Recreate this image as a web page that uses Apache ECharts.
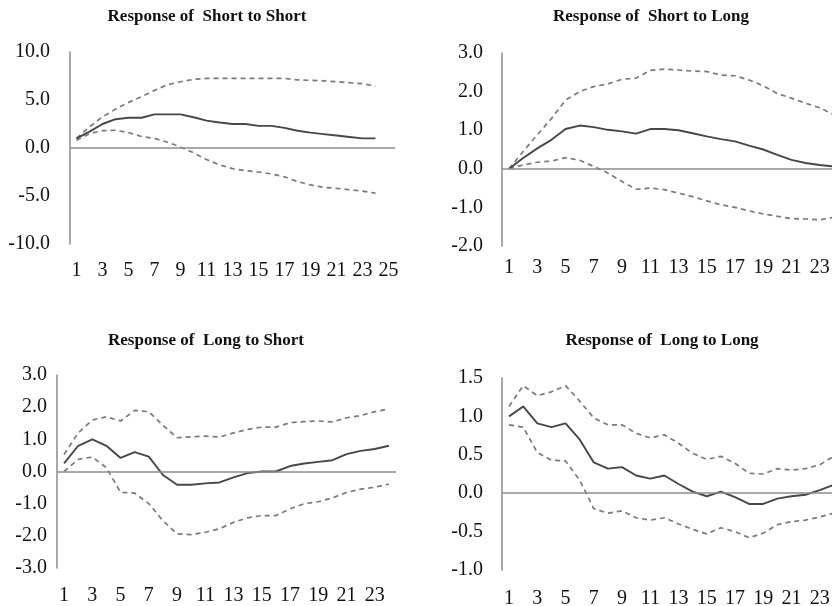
<!DOCTYPE html>
<html>
<head>
<meta charset="utf-8">
<script src="https://cdn.jsdelivr.net/npm/echarts@6/dist/echarts.min.js"></script>
<style>
  html, body { margin: 0; padding: 0; background: #fff; }
  #chart { width: 832px; height: 606px; }
</style>
</head>
<body>
<div id="chart"></div>
<script>
// Impulse responses (point estimate with lower / upper bands), periods 1..24
const axisCats25 = Array.from({ length: 25 }, (_, i) => String(i + 1));
const axisCats24 = Array.from({ length: 24 }, (_, i) => String(i + 1));

const titles = [
  'Response of  Short to Short',
  'Response of  Short to Long',
  'Response of  Long to Short',
  'Response of  Long to Long'
];

// Short to Short
const irfSS   = [1.0, 1.7, 2.5, 3.0, 3.15, 3.15, 3.5, 3.5, 3.5, 3.2, 2.85, 2.65, 2.5, 2.5, 2.3, 2.3, 2.1, 1.8, 1.6, 1.45, 1.3, 1.15, 1.0, 1.0];
const upperSS = [1.0, 2.2, 3.25, 4.05, 4.75, 5.35, 6.0, 6.6, 6.9, 7.15, 7.25, 7.25, 7.25, 7.25, 7.25, 7.25, 7.25, 7.1, 7.05, 7.0, 6.9, 6.8, 6.7, 6.45];
const lowerSS = [0.8, 1.5, 1.8, 1.85, 1.6, 1.2, 1.0, 0.6, 0.1, -0.5, -1.2, -1.75, -2.15, -2.35, -2.5, -2.7, -3.0, -3.5, -3.85, -4.1, -4.2, -4.35, -4.5, -4.7];

// Short to Long
const irfSL   = [0.0, 0.28, 0.53, 0.75, 1.03, 1.12, 1.08, 1.01, 0.97, 0.91, 1.03, 1.03, 1.0, 0.92, 0.84, 0.77, 0.71, 0.6, 0.5, 0.36, 0.23, 0.15, 0.1, 0.06];
const upperSL = [0.0, 0.45, 0.88, 1.3, 1.78, 2.0, 2.13, 2.2, 2.32, 2.35, 2.55, 2.58, 2.56, 2.53, 2.52, 2.43, 2.41, 2.3, 2.15, 1.95, 1.83, 1.7, 1.58, 1.4];
const lowerSL = [0.0, 0.1, 0.17, 0.2, 0.29, 0.22, 0.06, -0.11, -0.33, -0.53, -0.5, -0.54, -0.63, -0.72, -0.83, -0.93, -1.0, -1.09, -1.17, -1.23, -1.29, -1.3, -1.32, -1.26];

// Long to Short
const irfLS   = [0.25, 0.8, 1.0, 0.8, 0.42, 0.6, 0.46, -0.11, -0.41, -0.41, -0.37, -0.34, -0.18, -0.05, 0.0, 0.0, 0.17, 0.25, 0.3, 0.35, 0.54, 0.64, 0.7, 0.8];
const upperLS = [0.53, 1.2, 1.6, 1.7, 1.57, 1.9, 1.86, 1.44, 1.05, 1.08, 1.1, 1.07, 1.2, 1.31, 1.38, 1.38, 1.52, 1.55, 1.57, 1.54, 1.67, 1.74, 1.86, 1.95];
const lowerLS = [0.0, 0.38, 0.45, 0.12, -0.65, -0.67, -1.0, -1.53, -1.94, -1.96, -1.89, -1.78, -1.58, -1.44, -1.37, -1.37, -1.16, -1.0, -0.94, -0.82, -0.65, -0.55, -0.49, -0.39];

// Long to Long
const irfLL   = [1.0, 1.13, 0.91, 0.86, 0.91, 0.7, 0.4, 0.32, 0.34, 0.23, 0.19, 0.23, 0.12, 0.02, -0.04, 0.02, -0.05, -0.14, -0.14, -0.07, -0.04, -0.02, 0.04, 0.11];
const upperLL = [1.13, 1.4, 1.27, 1.32, 1.4, 1.2, 0.98, 0.89, 0.89, 0.78, 0.72, 0.76, 0.65, 0.52, 0.44, 0.48, 0.39, 0.26, 0.25, 0.32, 0.3, 0.32, 0.37, 0.48];
const lowerLL = [0.89, 0.86, 0.53, 0.43, 0.42, 0.17, -0.2, -0.26, -0.23, -0.32, -0.35, -0.32, -0.4, -0.47, -0.53, -0.45, -0.5, -0.58, -0.52, -0.41, -0.37, -0.35, -0.31, -0.26];

// Y ranges per panel: [min, max, interval]
const yRanges = [[-10, 10, 5], [-2, 3, 1], [-3, 3, 1], [-1, 1.5, 0.5]];

const panels = [
  { irf: irfSS, up: upperSS, lo: lowerSS, cats: axisCats25 },
  { irf: irfSL, up: upperSL, lo: lowerSL, cats: axisCats25 },
  { irf: irfLS, up: upperLS, lo: lowerLS, cats: axisCats24 },
  { irf: irfLL, up: upperLL, lo: lowerLL, cats: axisCats25 }
];

// Layout of each panel's plotting area (right-hand panels run past the page edge)
const grids = [
  { left: 70,  top: 52,  width: 325, height: 192 },
  { left: 502, top: 53,  width: 353, height: 193 },
  { left: 57,  top: 375, width: 339, height: 193 },
  { left: 502, top: 378, width: 353, height: 192 }
];
const yLabelMargin = [20, 19, 10, 19];
const xLabelMargin = [17, 12, 18, 19];
const titlePos = [[207, 17], [651, 17], [206, 341], [662, 341]];

const FONT = '"Liberation Serif", "Times New Roman", serif';
const SOLID = '#474747';
const DASH = '#7a7a7a';
const AXIS = '#8c8c8c';

const option = {
  backgroundColor: '#ffffff',
  animation: false,
  grid: grids.map(g => Object.assign({ containLabel: false, outerBoundsMode: 'none' }, g)),
  xAxis: panels.map((p, i) => ({
    type: 'category',
    gridIndex: i,
    data: p.cats,
    boundaryGap: true,
    axisLine: { show: false },
    axisTick: { show: false },
    splitLine: { show: false },
    axisLabel: {
      interval: 1,
      margin: xLabelMargin[i],
      color: '#111',
      fontFamily: FONT,
      fontSize: 20
    }
  })),
  yAxis: yRanges.map((r, i) => ({
    type: 'value',
    gridIndex: i,
    min: r[0],
    max: r[1],
    interval: r[2],
    axisLine: { show: true, lineStyle: { color: AXIS, width: 1.5 } },
    axisTick: { show: false },
    splitLine: { show: false },
    axisLabel: {
      margin: yLabelMargin[i],
      color: '#111',
      fontFamily: FONT,
      fontSize: 20,
      formatter: v => v.toFixed(1)
    }
  })),
  series: []
};

panels.forEach((p, i) => {
  const base = {
    type: 'line',
    xAxisIndex: i,
    yAxisIndex: i,
    showSymbol: false,
    symbol: 'none',
    silent: true
  };
  option.series.push(Object.assign({}, base, {
    name: 'upper' + i,
    data: p.up,
    lineStyle: { color: DASH, width: 1.7, type: [5, 4] }
  }));
  option.series.push(Object.assign({}, base, {
    name: 'lower' + i,
    data: p.lo,
    lineStyle: { color: DASH, width: 1.7, type: [5, 4] }
  }));
  option.series.push(Object.assign({}, base, {
    name: 'irf' + i,
    data: p.irf,
    z: 3,
    lineStyle: { color: SOLID, width: 1.9 },
    markLine: {
      silent: true,
      symbol: 'none',
      label: { show: false },
      lineStyle: { color: AXIS, type: 'solid', width: 1.5 },
      data: [{ yAxis: 0 }]
    }
  }));
});

option.graphic = titles.map((t, i) => ({
  type: 'text',
  x: titlePos[i][0],
  y: titlePos[i][1],
  style: {
    text: t,
    font: 'bold 17px ' + FONT,
    fill: '#111',
    textAlign: 'center',
    textVerticalAlign: 'middle'
  }
}));

const chart = echarts.init(document.getElementById('chart'), null, { renderer: 'canvas' });
chart.setOption(option);
</script>
</body>
</html>
